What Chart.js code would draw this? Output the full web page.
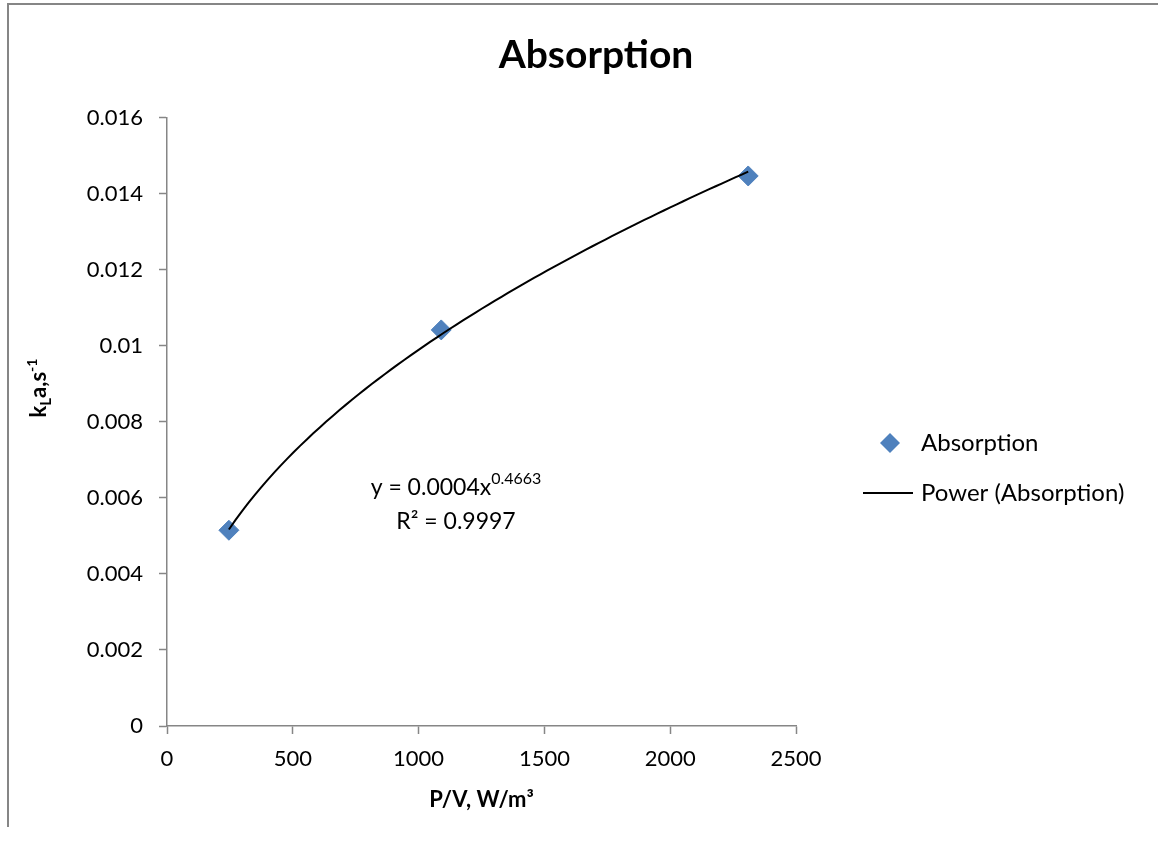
<!DOCTYPE html>
<html>
<head>
<meta charset="utf-8">
<script src="https://cdn.jsdelivr.net/npm/chart.js@4/dist/chart.umd.min.js"></script>
<style>
  html, body { margin: 0; padding: 0; background: #fff; overflow: hidden; }
  #frame { position: absolute; left: 7px; top: 3px; width: 1200px; height: 822px;
           border-left: 2px solid #868686; border-top: 2px solid #868686; }
  #wrap { position: absolute; left: 0; top: 0; width: 1192px; height: 846px; }
</style>
</head>
<body>
<div id="frame"></div>
<div id="wrap"><canvas id="c"></canvas></div>
<script>
// ---- data ----
const seriesName = 'Absorption';
const trendName = 'Power (Absorption)';
const xValues = [246, 1090, 2310];
const yValues = [0.00515, 0.01042, 0.01447];
const xTickValues = [0, 500, 1000, 1500, 2000, 2500];
const xTickLabels = ['0', '500', '1000', '1500', '2000', '2500'];
const yTickValues = [0, 0.002, 0.004, 0.006, 0.008, 0.01, 0.012, 0.014, 0.016];
const yTickLabels = ['0', '0.002', '0.004', '0.006', '0.008', '0.01', '0.012', '0.014', '0.016'];
const eqCoef = '0.0004';
const eqExp = '0.4663';
const rSquared = '0.9997';
const chartTitle = 'Absorption';
const xAxisTitle = 'P/V, W/m³';

// ---- power trendline: least squares fit in log-log space of the data ----
function powerFit(xs, ys) {
  const lx = xs.map(Math.log), ly = ys.map(Math.log);
  const n = xs.length;
  const mx = lx.reduce((a, b) => a + b, 0) / n, my = ly.reduce((a, b) => a + b, 0) / n;
  let sxy = 0, sxx = 0;
  for (let i = 0; i < n; i++) { sxy += (lx[i] - mx) * (ly[i] - my); sxx += (lx[i] - mx) ** 2; }
  const b = sxy / sxx, a = Math.exp(my - b * mx);
  return { a, b };
}
const fit = powerFit(xValues, yValues);
const xMin = Math.min(...xValues), xMax = Math.max(...xValues);
const trendPts = [];
for (let i = 0; i <= 80; i++) {
  const x = xMin + (xMax - xMin) * i / 80;
  trendPts.push({ x, y: fit.a * Math.pow(x, fit.b) });
}

const FONT = 'Lato, "Open Sans", sans-serif';
const BLUE = '#4F81BD';
const AXIS = '#868686';

const overlay = {
  id: 'overlay',
  afterDraw(chart) {
    const ctx = chart.ctx;
    ctx.save();
    ctx.fillStyle = '#000';
    ctx.textBaseline = 'alphabetic';

    // y-axis title with subscript / superscript
    const parts = [
      { t: 'k', f: 'bold 22px ' + FONT, dy: 0 },
      { t: 'L', f: 'bold 15px ' + FONT, dy: 5 },
      { t: 'a,s', f: 'bold 22px ' + FONT, dy: 0 },
      { t: '-1', f: 'bold 14px ' + FONT, dy: -9 }
    ];
    let tw = 0;
    parts.forEach(p => { ctx.font = p.f; p.w = ctx.measureText(p.t).width; tw += p.w; });
    ctx.translate(46, 388);
    ctx.rotate(-Math.PI / 2);
    let px = -tw / 2;
    parts.forEach(p => { ctx.font = p.f; ctx.fillText(p.t, px, p.dy); px += p.w; });
    ctx.setTransform(1, 0, 0, 1, 0, 0);

    // trendline equation
    ctx.font = '23px ' + FONT;
    const s1 = 'y = ' + eqCoef + 'x';
    const w1 = ctx.measureText(s1).width;
    ctx.font = '16px ' + FONT;
    const w2 = ctx.measureText(eqExp).width;
    const cx = 456;
    let ex = cx - (w1 + w2) / 2;
    ctx.font = '23px ' + FONT;
    ctx.fillText(s1, ex, 495);
    ctx.font = '16px ' + FONT;
    ctx.fillText(eqExp, ex + w1, 484);
    ctx.font = '23px ' + FONT;
    ctx.textAlign = 'center';
    ctx.fillText('R² = ' + rSquared, 456, 529);
    ctx.textAlign = 'left';

    // legend
    const ds0 = chart.data.datasets[0], ds1 = chart.data.datasets[1];
    ctx.fillStyle = ds0.backgroundColor;
    ctx.beginPath();
    ctx.moveTo(890 - 10, 443); ctx.lineTo(890, 433); ctx.lineTo(900, 443); ctx.lineTo(890, 453);
    ctx.closePath(); ctx.fill();
    ctx.strokeStyle = ds1.borderColor; ctx.lineWidth = ds1.borderWidth;
    ctx.beginPath(); ctx.moveTo(863, 493); ctx.lineTo(913, 493); ctx.stroke();
    ctx.fillStyle = '#000';
    ctx.font = '24px ' + FONT;
    ctx.textBaseline = 'middle';
    ctx.fillText(seriesName, 921, 443);
    ctx.fillText(trendName, 921, 493);
    ctx.restore();
  }
};

new Chart(document.getElementById('c'), {
  type: 'scatter',
  data: {
    datasets: [
      {
        label: seriesName,
        data: xValues.map((x, i) => ({ x, y: yValues[i] })),
        backgroundColor: BLUE,
        borderColor: BLUE,
        pointStyle: 'rectRot',
        pointRadius: 10,
        pointHoverRadius: 10,
        order: 2
      },
      {
        label: trendName,
        type: 'line',
        data: trendPts,
        borderColor: '#000',
        borderWidth: 2,
        pointRadius: 0,
        fill: false,
        tension: 0,
        order: 1
      }
    ]
  },
  plugins: [overlay],
  options: {
    responsive: true,
    maintainAspectRatio: false,
    animation: false,
    events: [],
    layout: { padding: { left: 0, right: 0, top: 0, bottom: 0 } },
    plugins: {
      legend: { display: false },
      tooltip: { enabled: false },
      title: {
        display: true,
        text: chartTitle,
        color: '#000',
        font: { family: FONT, size: 39, weight: 'bold', lineHeight: 1.2 },
        padding: { top: 32, bottom: 39 }
      }
    },
    scales: {
      x: {
        type: 'linear',
        min: 0, max: 2500,
        afterBuildTicks: s => { s.ticks = xTickValues.map(v => ({ value: v })); },
        afterFit: s => { s.height = 120; },
        ticks: {
          callback: (v) => xTickLabels[xTickValues.indexOf(v)],
          color: '#000',
          font: { family: FONT, size: 22 },
          padding: 12,
          maxRotation: 0
        },
        grid: { drawOnChartArea: false, color: AXIS, tickLength: 8, tickColor: AXIS, tickWidth: 1.5 },
        border: { color: AXIS, width: 1.5 },
        title: {
          display: true,
          text: xAxisTitle,
          color: '#000',
          font: { family: FONT, size: 22, weight: 'bold' },
          padding: { top: 33, bottom: 33 }
        }
      },
      y: {
        type: 'linear',
        min: 0, max: 0.016,
        afterBuildTicks: s => { s.ticks = yTickValues.map(v => ({ value: v })); },
        afterFit: s => { s.width = 167; },
        ticks: {
          callback: (v) => yTickLabels[yTickValues.indexOf(v)],
          color: '#000',
          font: { family: FONT, size: 22 },
          padding: 16
        },
        grid: { drawOnChartArea: false, color: AXIS, tickLength: 8, tickColor: AXIS, tickWidth: 1.5 },
        border: { color: AXIS, width: 1.5 }
      },
      yRight: {
        type: 'linear',
        position: 'right',
        display: true,
        afterFit: s => { s.width = 1192 - 796; },
        ticks: { display: false },
        grid: { display: false, drawTicks: false },
        border: { display: false }
      }
    }
  }
});
</script>
</body>
</html>
